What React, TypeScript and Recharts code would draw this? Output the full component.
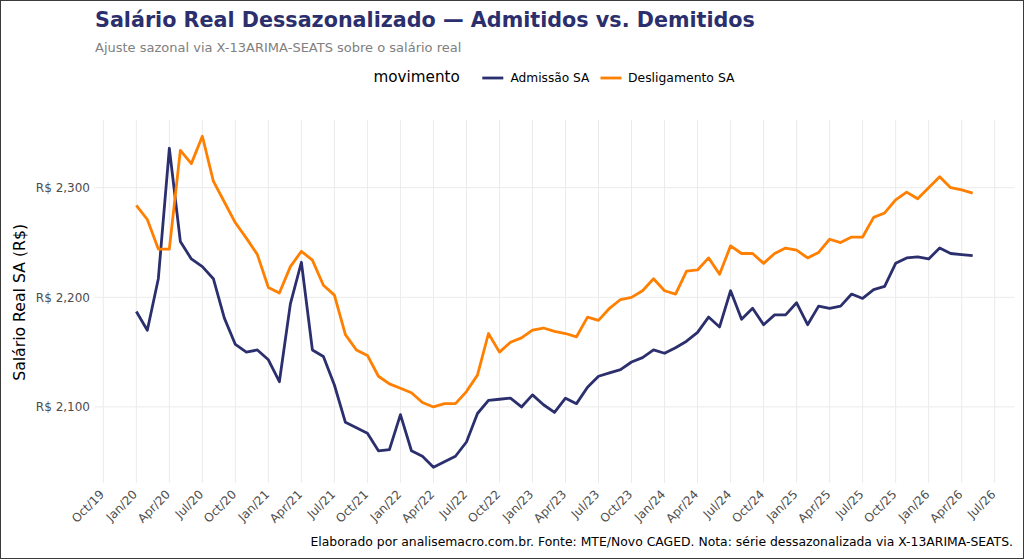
import React from 'react';
import { LineChart, Line, XAxis, YAxis, CartesianGrid } from 'recharts';

const months = [
  'Jan/20', 'Feb/20', 'Mar/20', 'Apr/20', 'May/20', 'Jun/20', 'Jul/20', 'Aug/20', 'Sep/20', 'Oct/20', 'Nov/20', 'Dec/20',
  'Jan/21', 'Feb/21', 'Mar/21', 'Apr/21', 'May/21', 'Jun/21', 'Jul/21', 'Aug/21', 'Sep/21', 'Oct/21', 'Nov/21', 'Dec/21',
  'Jan/22', 'Feb/22', 'Mar/22', 'Apr/22', 'May/22', 'Jun/22', 'Jul/22', 'Aug/22', 'Sep/22', 'Oct/22', 'Nov/22', 'Dec/22',
  'Jan/23', 'Feb/23', 'Mar/23', 'Apr/23', 'May/23', 'Jun/23', 'Jul/23', 'Aug/23', 'Sep/23', 'Oct/23', 'Nov/23', 'Dec/23',
  'Jan/24', 'Feb/24', 'Mar/24', 'Apr/24', 'May/24', 'Jun/24', 'Jul/24', 'Aug/24', 'Sep/24', 'Oct/24', 'Nov/24', 'Dec/24',
  'Jan/25', 'Feb/25', 'Mar/25', 'Apr/25', 'May/25', 'Jun/25', 'Jul/25', 'Aug/25', 'Sep/25', 'Oct/25', 'Nov/25', 'Dec/25',
  'Jan/26', 'Feb/26', 'Mar/26', 'Apr/26', 'May/26',
];

const admissaoSA = [
  2187, 2170, 2217, 2336, 2251, 2235, 2228, 2217, 2181, 2157, 2150, 2152,
  2143, 2123, 2194, 2232, 2152, 2146, 2120, 2086, 2081, 2076, 2060, 2061,
  2093, 2060, 2055, 2045, 2050, 2055, 2068, 2094, 2106, 2107, 2108, 2100,
  2111, 2102, 2095, 2108, 2103, 2118, 2128, 2131, 2134, 2141, 2145, 2152,
  2149, 2154, 2160, 2168, 2182, 2173, 2206, 2180, 2190, 2175, 2184, 2184,
  2195, 2175, 2192, 2190, 2192, 2203, 2199, 2207, 2210, 2231, 2236, 2237,
  2235, 2245, 2240, 2239, 2238,
];

const desligamentoSA = [
  2284, 2271, 2244, 2244, 2334, 2322, 2347, 2306, 2287, 2268, 2254, 2239,
  2209, 2204, 2228, 2242, 2234, 2211, 2202, 2166, 2152, 2147, 2128, 2121,
  2117, 2113, 2104, 2100, 2103, 2103, 2114, 2129, 2167, 2150, 2159, 2163,
  2170, 2172, 2169, 2167, 2164, 2182, 2179, 2190, 2198, 2200, 2206, 2217,
  2206, 2203, 2224, 2225, 2236, 2221, 2247, 2240, 2240, 2231, 2240, 2245,
  2243, 2236, 2241, 2253, 2250, 2255, 2255, 2273, 2277, 2289, 2296, 2290,
  2300, 2310, 2300, 2298, 2295,
];

// month index (0 = Jan/20) of each x tick, and its label
const xTickPositions = [
  -3, 0, 3, 6, 9, 12, 15, 18, 21, 24, 27, 30, 33, 36, 39, 42, 45, 48, 51, 54, 57, 60, 63, 66, 69, 72, 75, 78,
];
const xTickLabels = [
  'Oct/19', 'Jan/20', 'Apr/20', 'Jul/20', 'Oct/20', 'Jan/21', 'Apr/21', 'Jul/21', 'Oct/21', 'Jan/22',
  'Apr/22', 'Jul/22', 'Oct/22', 'Jan/23', 'Apr/23', 'Jul/23', 'Oct/23', 'Jan/24', 'Apr/24', 'Jul/24',
  'Oct/24', 'Jan/25', 'Apr/25', 'Jul/25', 'Oct/25', 'Jan/26', 'Apr/26', 'Jul/26',
];
const yTicks = [2100, 2200, 2300];
const yTickLabels = ['R$ 2,100', 'R$ 2,200', 'R$ 2,300'];

const seriesNames = ['Admissão SA', 'Desligamento SA'];
const NAVY = '#2b2f6d';
const ORANGE = '#ff7f00';
const LINE_W = 2.8;

const data = months.map((m, i) => ({
  t: i,
  month: m,
  admissao: admissaoSA[i],
  desligamento: desligamentoSA[i],
}));

const XTick = (props: any) => {
  const { x, y, payload } = props;
  const idx = xTickPositions.indexOf(payload.value);
  const label = idx >= 0 ? xTickLabels[idx] : '';
  const ax = x - 4.5;
  return (
    <text
      x={ax}
      y={y}
      dy="0.73em"
      textAnchor="end"
      fill="#4d4d4d"
      fontSize={12}
      transform={`rotate(-45, ${ax}, ${y})`}
    >
      {label}
    </text>
  );
};

const yFormat = (v: number) => {
  const idx = yTicks.indexOf(v);
  return idx >= 0 ? yTickLabels[idx] : String(v);
};

export default function App() {
  return (
    <div
      style={{
        position: 'absolute',
        left: 0,
        top: 0,
        width: 1024,
        height: 559,
        background: '#ffffff',
        fontFamily: '"DejaVu Sans", sans-serif',
        overflow: 'hidden',
      }}
    >
      <LineChart
        width={1024}
        height={559}
        data={data}
        margin={{ top: 120, right: 9.5, bottom: 0, left: 0 }}
      >
        <CartesianGrid stroke="#ebebeb" strokeWidth={1} syncWithTicks />
        <XAxis
          dataKey="t"
          type="number"
          domain={[-3.8, 79.8]}
          ticks={xTickPositions}
          interval={0}
          allowDataOverflow
          axisLine={false}
          tickLine={false}
          tickSize={0}
          tickMargin={6}
          height={76}
          tick={XTick}
        />
        <YAxis
          type="number"
          domain={[2030.6, 2361.8]}
          ticks={yTicks}
          allowDataOverflow
          axisLine={false}
          tickLine={false}
          tickSize={0}
          tickMargin={4.5}
          width={94.5}
          tickFormatter={yFormat}
          tick={{ fill: '#4d4d4d', fontSize: 12 }}
        />
        <Line
          type="linear"
          dataKey="admissao"
          name={seriesNames[0]}
          stroke={NAVY}
          strokeWidth={LINE_W}
          strokeLinejoin="round"
          dot={false}
          activeDot={false}
          isAnimationActive={false}
        />
        <Line
          type="linear"
          dataKey="desligamento"
          name={seriesNames[1]}
          stroke={ORANGE}
          strokeWidth={LINE_W}
          strokeLinejoin="round"
          dot={false}
          activeDot={false}
          isAnimationActive={false}
        />
      </LineChart>
      <svg
        width={1024}
        height={559}
        style={{ position: 'absolute', left: 0, top: 0, pointerEvents: 'none' }}
      >
        <text x={95} y={26.5} fontSize={20.7} fontWeight="bold" fill={NAVY}>
          Salário Real Dessazonalizado — Admitidos vs. Demitidos
        </text>
        <text x={95} y={51.7} fontSize={13} fill="#808080">
          Ajuste sazonal via X-13ARIMA-SEATS sobre o salário real
        </text>
        <text x={373.5} y={81.5} fontSize={15.2} fill="#000000">
          movimento
        </text>
        <line x1={482.3} x2={503.3} y1={78} y2={78} stroke={NAVY} strokeWidth={LINE_W} />
        <text x={510.5} y={81.7} fontSize={12.2} fill="#000000">
          {seriesNames[0]}
        </text>
        <line x1={600.5} x2={621.5} y1={78} y2={78} stroke={ORANGE} strokeWidth={LINE_W} />
        <text x={628} y={81.7} fontSize={12.4} fill="#000000">
          {seriesNames[1]}
        </text>
        <text
          transform="translate(24.5, 302.4) rotate(-90)"
          textAnchor="middle"
          fontSize={15.7}
          fill="#000000"
        >
          Salário Real SA (R$)
        </text>
        <text x={1013} y={546} textAnchor="end" fontSize={12.4} fill="#000000">
          Elaborado por analisemacro.com.br. Fonte: MTE/Novo CAGED. Nota: série dessazonalizada via X-13ARIMA-SEATS.
        </text>
        <rect x={0.5} y={0.5} width={1023} height={558} fill="none" stroke="#3a3a3a" strokeWidth={1} />
      </svg>
    </div>
  );
}
